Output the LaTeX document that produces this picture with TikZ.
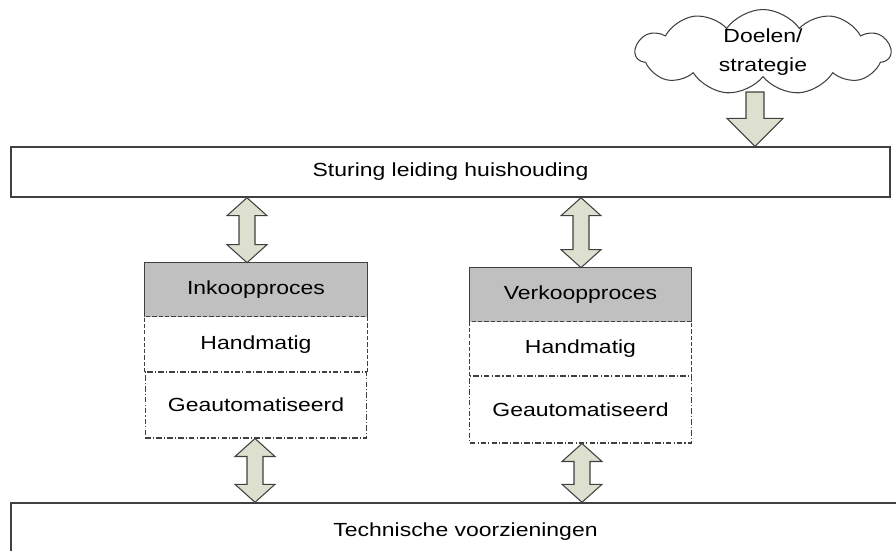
\documentclass[tikz,border=0pt]{standalone}
\usepackage{fontspec}
\setmainfont{Liberation Sans}[FakeStretch=1.21]
\usepackage{xcolor}
\usepackage{tikz}
\usetikzlibrary{calc,shapes.symbols}

\definecolor{pijlgroen}{RGB}{221,224,206}
\definecolor{kopgrijs}{RGB}{192,192,192}
\definecolor{lijn}{RGB}{64,64,64}

% blokpijl met twee punten, van #1 (boven) naar #2 (onder)
\newcommand{\dubbelpijl}[2]{%
	\draw[pijl] #1 -- ($#1+(20,18)$) -- ($#1+(8,18)$) -- ($#2+(8,-18)$)
		-- ($#2+(20,-18)$) -- #2 -- ($#2+(-20,-18)$) -- ($#2+(-8,-18)$)
		-- ($#1+(-8,18)$) -- ($#1+(-20,18)$) -- cycle;
}

\begin{document}
\begin{tikzpicture}[x=0.02cm,y=-0.02cm,
		font=\fontsize{10.8}{13}\selectfont,
		balk/.style={draw=lijn,line width=0.8pt,rectangle,inner sep=0pt,
			minimum height=#1},
		kop/.style={fill=kopgrijs,rectangle,inner sep=0pt,minimum width=4.43cm,
			minimum height=1.08cm},
		rij/.style={rectangle,inner sep=0pt,minimum width=4.43cm,minimum height=#1},
		streep/.style={draw=lijn,line width=0.6pt,dash pattern=on 2.4pt off 1.2pt},
		streeppunt/.style={draw=lijn,line width=0.6pt,
			dash pattern=on 3.2pt off 1.2pt on 0.6pt off 1.2pt},
		pijl/.style={draw=lijn,line width=0.6pt,fill=pijlgroen,line join=miter}
	]
	\clip (0,0) rectangle (896,551);
	\node (Doel) at (763,52) [cloud,cloud puffs=11,cloud puff arc=110,aspect=3,
		draw=lijn,line width=0.6pt,inner sep=0pt,
		minimum width=5.1cm,minimum height=1.7cm,
		font=\fontsize{10.8}{17}\selectfont]
		{\raisebox{-2.2pt}[0pt][0pt]{\begin{tabular}{@{}c@{}}Doelen/\\strategie\end{tabular}}};
	\node (Stur) at (450.5,172) [balk=1cm,minimum width=17.58cm]
		{Sturing leiding huishouding};
	\node (Tech) at (465.5,531.5) [balk=1.14cm,minimum width=18.18cm]
		{Technische voorzieningen};
	%
	\node (Ink) at (256,290) [kop] {Inkoopproces};
	\node (InkH) at (256,344.5) [rij=1.1cm] {Handmatig};
	\node (InkG) at (256,405) [rij=1.32cm,streeppunt] {Geautomatiseerd};
	\node (Verk) at (580.5,295) [kop] {Verkoopproces};
	\node (VerkH) at (580.5,349) [rij=1.08cm] {Handmatig};
	\node (VerkG) at (580.5,409.5) [rij=1.34cm,streeppunt] {Geautomatiseerd};
	%
	\draw[draw=lijn,line width=0.6pt] (Ink.south west) |- (Ink.north) -| (Ink.south east);
	\draw[draw=lijn,line width=0.6pt] (Verk.south west) |- (Verk.north) -| (Verk.south east);
	\draw[streep] (InkH.south west) |- (InkH.north) -| (InkH.south east);
	\draw[streep] (VerkH.south west) |- (VerkH.north) -| (VerkH.south east);
	%
	\coordinate (a1) at ($(Ink.north)+(-9,0)$);
	\coordinate (a2) at ($(Verk.north)+(0.5,0)$);
	\coordinate (a3) at ($(InkG.south)+(-1,0)$);
	\coordinate (a4) at ($(VerkG.south)+(1.5,0)$);
	\coordinate (w) at (755,92);
	\dubbelpijl{(Stur.south -| a1)}{(a1)}
	\dubbelpijl{(Stur.south -| a2)}{(a2)}
	\dubbelpijl{(a3)}{(Tech.north -| a3)}
	\dubbelpijl{(a4)}{(Tech.north -| a4)}
	\draw[pijl] ($(w)+(-9,0)$) -- ($(w)+(9,0)$) -- ($(Stur.north -| w)+(9,-28)$)
		-- ($(Stur.north -| w)+(28,-28)$) -- (Stur.north -| w)
		-- ($(Stur.north -| w)+(-28,-28)$) -- ($(Stur.north -| w)+(-9,-28)$) -- cycle;
\end{tikzpicture}
\end{document}
